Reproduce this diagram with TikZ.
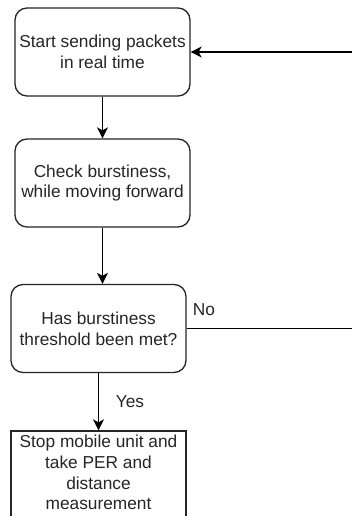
\documentclass[tikz,border=0pt]{standalone}
\usepackage{fontspec}
\setmainfont{Liberation Sans}
\usetikzlibrary{arrows.meta}
\begin{document}
\begin{tikzpicture}[x=1pt,y=-1pt,
  lbl/.style={font=\fontsize{17.3}{20.7}\selectfont, text=black!85, inner sep=0pt},
  box/.style={lbl, draw=black!85, line width=1.3pt, rounded corners=12pt,
    minimum width=175pt, minimum height=88pt, align=center},
  sqbox/.style={draw=black!85, line width=1.3pt, minimum width=175pt, minimum height=120pt, inner sep=0pt},
  arr/.style={draw=black, line width=1.3pt, -{Stealth[length=11pt,width=11pt,inset=3pt]}},
  ln/.style={draw=black, line width=1.3pt}]
\clip (0,0) rectangle (352,516);
\fill[white] (0,0) rectangle (352,516);
\node[box] (s1) at (102.5,52) {Start sending packets\\in real time};
\node[box] (s2) at (102.5,183) {Check burstiness,\\while moving forward};
\node[box] (s3) at (98.5,328.5) {Has burstiness\\threshold been met?};
\node[sqbox] (s4) at (98.5,491) {};
\node[lbl, align=center, anchor=north] (s4t) at (98.5,435) {Stop mobile unit and\\take PER and\\distance\\measurement};
\node[lbl] (no) at (204,310) {No};
\node[lbl] (yes) at (130,402) {Yes};
\coordinate (r1) at (365,328.5);
\coordinate (r2) at (365,52);
\draw[arr] (s1.south) -- (s2.north);
\draw[arr] (s2.south) -- (s2.south |- s3.north);
\draw[arr] (s3.south) -- (s4.north);
\draw[arr] (s3.east) -- (r1) -- (r2) -- (s1.east);
\end{tikzpicture}
\end{document}
